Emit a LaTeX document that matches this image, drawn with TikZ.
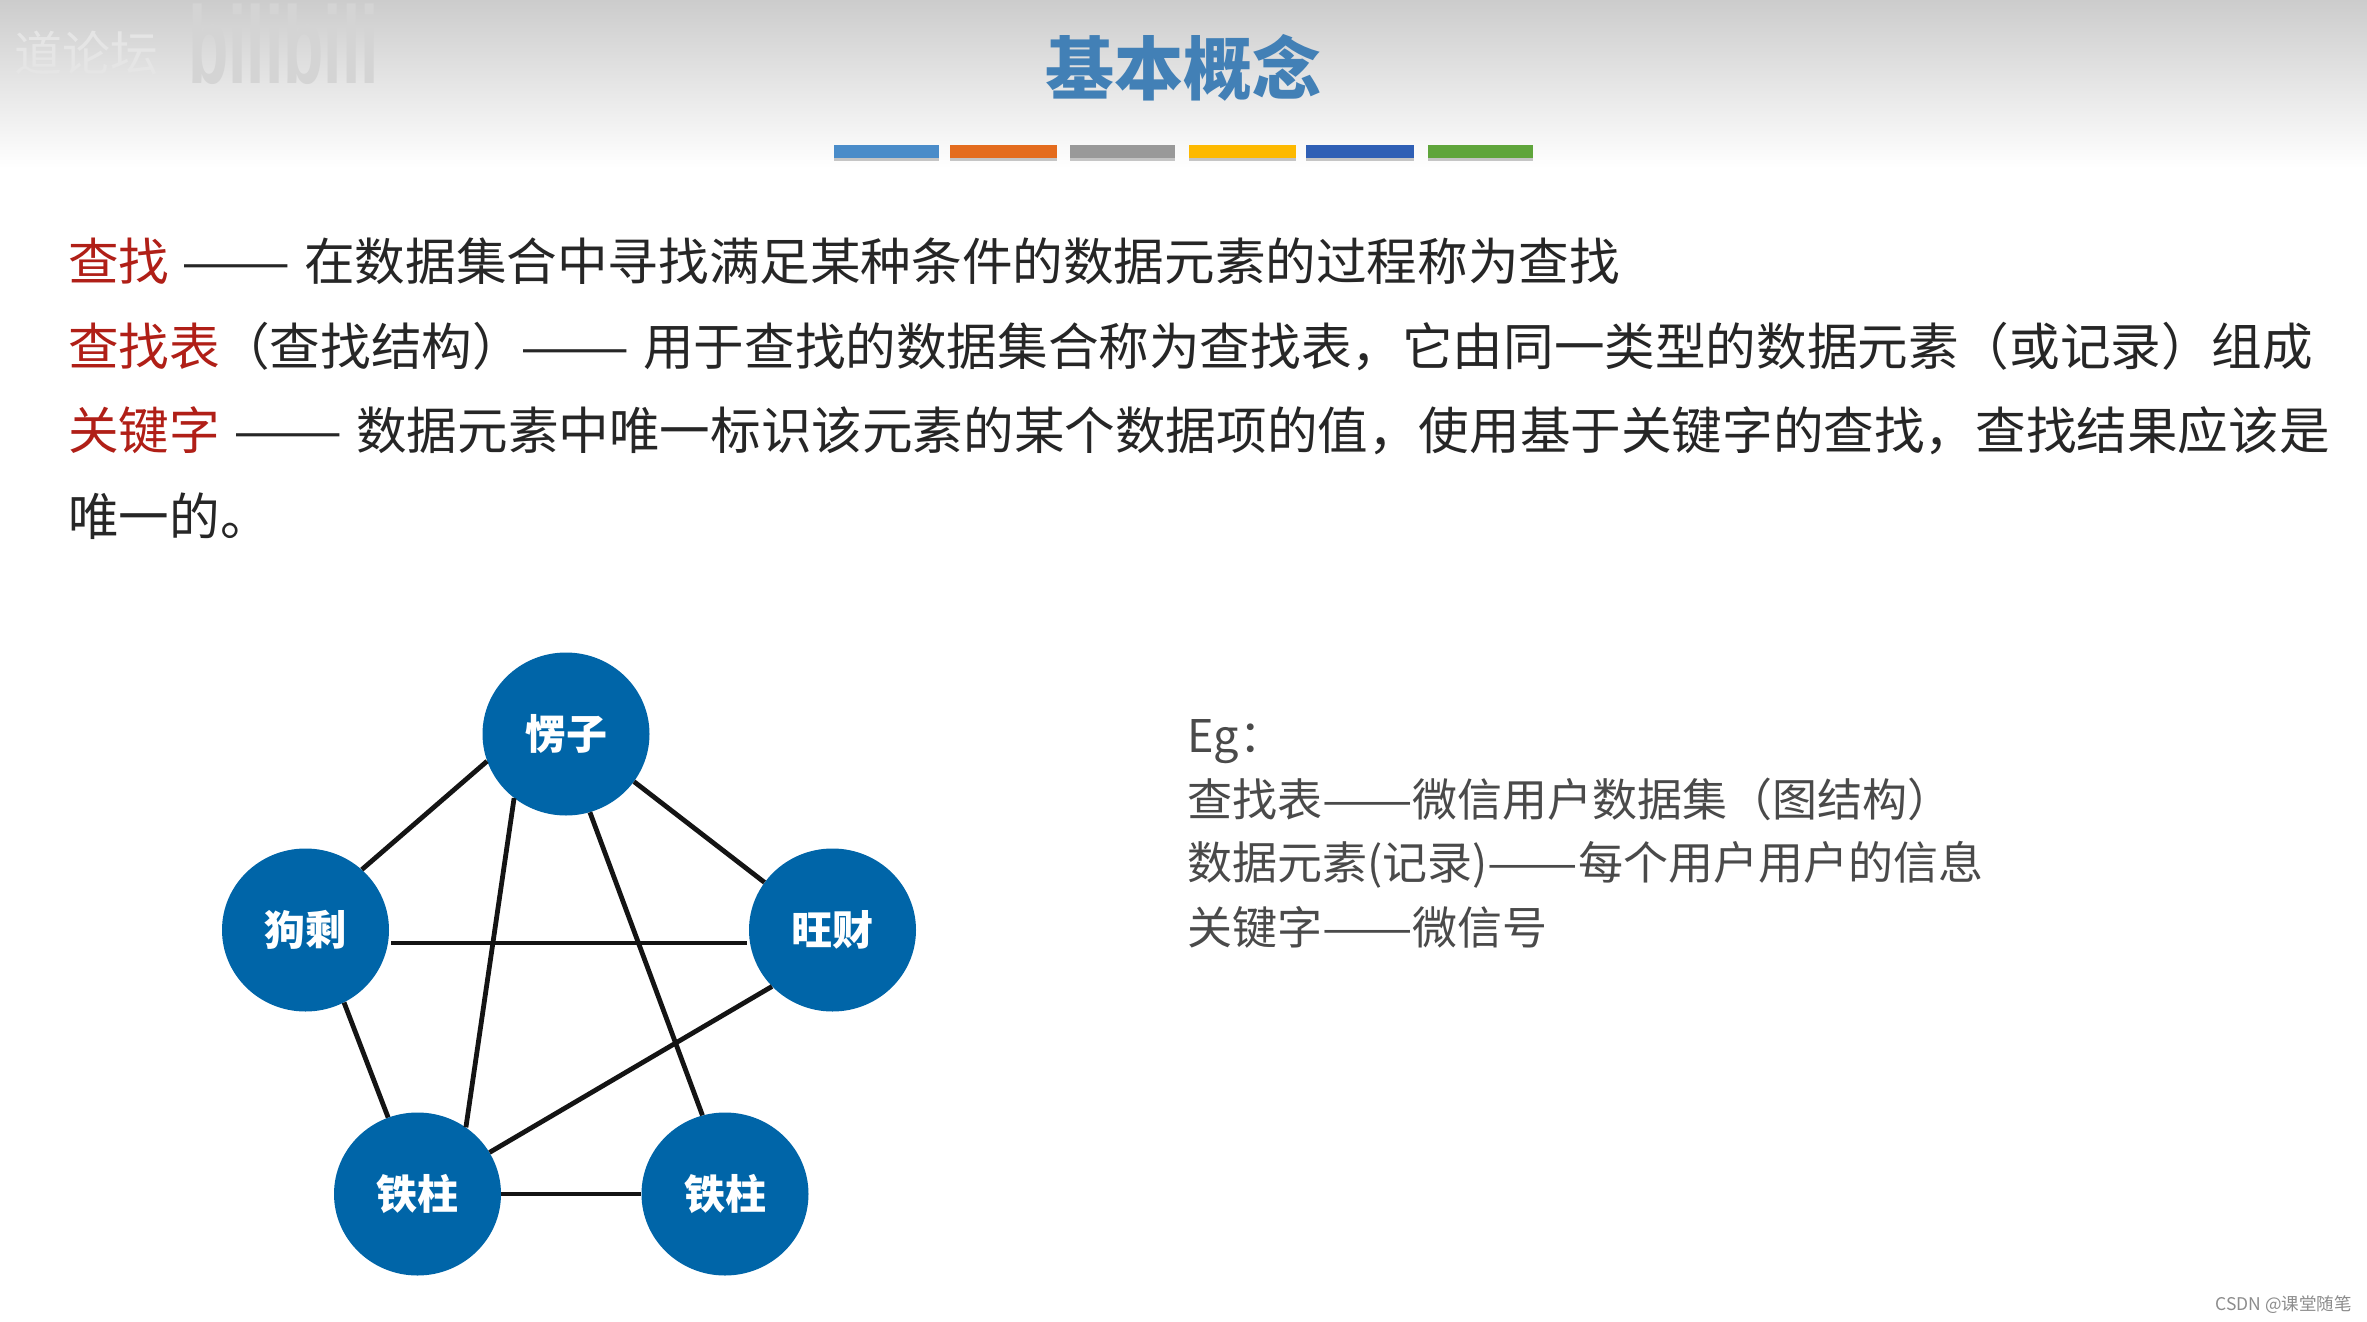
\documentclass[tikz,border=0pt]{standalone}
\usepackage{fontspec}
\setmainfont{Noto Sans CJK SC}
\newfontfamily\latinwm{Liberation Sans}
\usetikzlibrary{shapes.geometric}
\definecolor{nodeblue}{HTML}{0065A8}
\definecolor{titleblue}{HTML}{4280B6}
\definecolor{keyred}{HTML}{B01F17}
\definecolor{bodyk}{HTML}{262626}
\definecolor{egk}{HTML}{4A4A4A}
\newcommand{\egdash}{\scalebox{1.2}[1]{——}}
\newcommand{\bodydash}{\scalebox{1.29}[1]{——}}
\tikzset{
  person/.style={ellipse,fill=nodeblue,draw=none,minimum width=167pt,minimum height=163pt,inner sep=0pt,text=white,font=\fontsize{41}{41}\selectfont\bfseries},
  link/.style={draw=black!92,line width=4.8pt},
  body/.style={anchor=base west,inner sep=0pt,text=bodyk,font=\fontsize{50.6}{50.6}\selectfont},
  key/.style={body,text=keyred},
  eg/.style={anchor=base west,inner sep=0pt,text=egk,font=\fontsize{45}{45}\selectfont},
  barshade/.style={fill=black,opacity=.22}
}
\begin{document}
\begin{tikzpicture}[x=1pt,y=-1pt]
\useasboundingbox (0,0) rectangle (2367,1322);
\fill[white] (0,0) rectangle (2367,1322);
\shade[top color=black!20,bottom color=white] (0,0) rectangle (2367,168);
% watermark
\node[anchor=base west,inner sep=0pt,text=white!90!black,font=\fontsize{48}{48}\selectfont] (wma) at (14,72) {道论坛};
\node[anchor=base west,inner sep=0pt,text=black!17,font=\latinwm\bfseries\fontsize{110}{110}\selectfont,xscale=.6,transform shape] (wmb) at (188,84) {bilibili};
% title
\node[inner sep=0pt,text=titleblue,font=\fontsize{69}{69}\selectfont\bfseries] (title) at (1183,68) {基本概念};
% colour bars
\foreach \xa/\xb/\c in {834/939/4A8CC9,950/1057/E46C1E,1070/1175/999999,1189/1296/FDB900,1306/1414/2F5FB5,1428/1533/5FA53B}{
  \fill[barshade] (\xa,156) rectangle (\xb,161);
  \definecolor{barc}{HTML}{\c}
  \fill[barc] (\xa,145) rectangle (\xb,158);
}
% text lines
\node[key] (k1) at (68,280) {查找};
\node[body] (d1) at (181,280) {\bodydash};
\node[body] (t1) at (304,280) {在数据集合中寻找满足某种条件的数据元素的过程称为查找};
\node[key] (k2) at (68,365) {查找表};
\node[body] (t2a) at (219,365) {（查找结构）};
\node[body] (d2) at (520,365) {\bodydash};
\node[body] (t2b) at (643,365) {用于查找的数据集合称为查找表，它由同一类型的数据元素（或记录）组成};
\node[key] (k3) at (68,449) {关键字};
\node[body] (d3) at (233,449) {\bodydash};
\node[body] (t3) at (356,449) {数据元素中唯一标识该元素的某个数据项的值，使用基于关键字的查找，查找结果应该是};
\node[body] (t4) at (68,535) {唯一的。};
% example
\node[eg] (e0) at (1187,752) {Eg：};
\node[eg] (e1) at (1187,816) {查找表\egdash 微信用户数据集（图结构）};
\node[eg] (e2) at (1187,879) {数据元素(记录)\egdash 每个用户用户的信息};
\node[eg] (e3) at (1187,944) {关键字\egdash 微信号};
% graph
\node[person] (top) at (566,734) {愣子};
\node[person] (left) at (305.5,930) {狗剩};
\node[person] (right) at (832.5,930) {旺财};
\node[person] (bl) at (417.5,1194) {铁柱};
\node[person] (br) at (725,1194) {铁柱};
\draw[link] (top.199) -- (left.47);
\draw[link] (top.-35) -- (right.145);
\draw[link] (top.231.5) -- (bl.54);
\draw[link] (top.-73.5) -- (br.106.5);
\draw[link] ([xshift=3pt]left.-9) -- ([xshift=-3pt]right.189);
\draw[link] (left.-62.5) -- (bl.111);
\draw[link] (right.223.6) -- (bl.30.8);
\draw[link] (bl.0) -- (br.180);
% footer
\node[anchor=base east,inner sep=0pt,text=black!45,font=\fontsize{17.5}{17.5}\selectfont] (csdn) at (2352,1310) {CSDN @课堂随笔};
\end{tikzpicture}
\end{document}
